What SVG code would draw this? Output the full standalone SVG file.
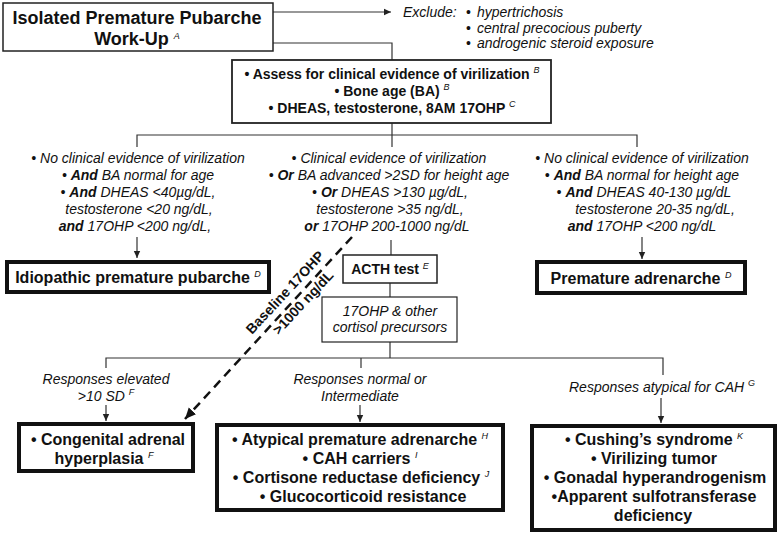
<svg xmlns="http://www.w3.org/2000/svg" width="780" height="535" viewBox="0 0 780 535">
<style>
text{font-family:"Liberation Sans",Arial,Helvetica,sans-serif;fill:#111}
.i{font-style:italic;font-size:14px}
.b{font-weight:bold}
.s14{font-size:14px}
.s16{font-size:16px}
.s18{font-size:18px}
.sup{font-size:9px;font-style:italic;font-weight:normal}
.ln{fill:none;stroke:#333;stroke-width:1.2}
.box{fill:#fff;stroke:#222}
.thick{fill:#fff;stroke:#111;stroke-width:4}
.m{text-anchor:middle}
</style>
<defs>
<marker id="ah" markerUnits="userSpaceOnUse" markerWidth="8" markerHeight="8" refX="7" refY="4" orient="auto">
<path d="M0,0.8 L7,4 L0,7.2 Z" fill="#222"/>
</marker>
<marker id="ahb" markerUnits="userSpaceOnUse" markerWidth="12" markerHeight="12" refX="11" refY="6" orient="auto">
<path d="M0,1 L11,6 L0,11 Z" fill="#111"/>
</marker>
</defs>
<rect width="780" height="535" fill="#fff"/>

<g id="connectors">
<line class="ln" x1="273" y1="12" x2="391" y2="12" marker-end="url(#ah)"/>
<polyline class="ln" points="273,43 392,43 392,60"/>
<line class="ln" x1="392" y1="123" x2="392" y2="147"/>
<polyline class="ln" points="137,147 137,135 637,135 637,147"/>
<line class="ln" x1="137" y1="237" x2="137" y2="258" marker-end="url(#ah)"/>
<line class="ln" x1="642" y1="237" x2="642" y2="259" marker-end="url(#ah)"/>
<line class="ln" x1="391" y1="240" x2="391" y2="255"/>
<line class="ln" x1="390" y1="283" x2="390" y2="297"/>
<line class="ln" x1="390" y1="342" x2="390" y2="358"/>
<polyline class="ln" points="106,368 106,358 663,358 663,375"/>
<line class="ln" x1="361" y1="358" x2="361" y2="368"/>
<line class="ln" x1="106" y1="405" x2="106" y2="421" marker-end="url(#ah)"/>
<line class="ln" x1="360" y1="405" x2="360" y2="422" marker-end="url(#ah)"/>
<line class="ln" x1="661" y1="398" x2="661" y2="423" marker-end="url(#ah)"/>
<line x1="352" y1="237" x2="185" y2="419" stroke="#111" stroke-width="2.5" stroke-dasharray="9 6" marker-end="url(#ahb)"/>
<g transform="translate(295,299) rotate(-47)">
<text class="b m" font-size="14" x="-2" y="-7">Baseline 17OHP</text>
<text class="b m" font-size="14" x="3" y="13">&gt;1000 ng/dL</text>
</g>
</g>

<g id="n-start">
<rect class="box" x="3" y="3" width="270" height="48" stroke-width="1.5"/>
<text class="b s18 m" x="137" y="24">Isolated Premature Pubarche</text>
<text class="b s18 m" x="137" y="45">Work-Up <tspan class="sup" font-size="11" dy="-6">A</tspan></text>
</g>

<g id="n-exclude">
<text class="i" x="403" y="17">Exclude:</text>
<text class="s14" x="466" y="17">•</text>
<text class="i" x="477" y="17">hypertrichosis</text>
<text class="s14" x="466" y="32.5">•</text>
<text class="i" x="477" y="32.5">central precocious puberty</text>
<text class="s14" x="466" y="48">•</text>
<text class="i" x="477" y="48">androgenic steroid exposure</text>
</g>

<g id="n-assess">
<rect class="box" x="232" y="60" width="319" height="63" stroke-width="1.8"/>
<text class="b s14 m" x="392" y="79">• Assess for clinical evidence of virilization <tspan class="sup" dy="-6">B</tspan></text>
<text class="b s14 m" x="392" y="96">• Bone age (BA) <tspan class="sup" dy="-6">B</tspan></text>
<text class="b s14 m" x="392" y="113">• DHEAS, testosterone, 8AM 17OHP <tspan class="sup" dy="-6">C</tspan></text>
</g>

<g id="n-crit-left">
<text class="i m" x="138" y="163">• No clinical evidence of virilization</text>
<text class="i m" x="138" y="180">• <tspan class="b">And</tspan> BA normal for age</text>
<text class="i m" x="138" y="197">• <tspan class="b">And</tspan> DHEAS &lt;40µg/dL,</text>
<text class="i m" x="139" y="214">testosterone &lt;20 ng/dL,</text>
<text class="i m" x="135" y="231"><tspan class="b">and</tspan> 17OHP &lt;200 ng/dL,</text>
</g>

<g id="n-crit-mid">
<text class="i m" x="389" y="163">• Clinical evidence of virilization</text>
<text class="i m" x="389" y="180">• <tspan class="b">Or</tspan> BA advanced &gt;2SD for height age</text>
<text class="i m" x="390" y="197">• <tspan class="b">Or</tspan> DHEAS &gt;130 µg/dL,</text>
<text class="i m" x="390" y="214">testosterone &gt;35 ng/dL,</text>
<text class="i m" x="387" y="231"><tspan class="b">or</tspan> 17OHP 200-1000 ng/dL</text>
</g>

<g id="n-crit-right">
<text class="i m" x="642" y="163">• No clinical evidence of virilization</text>
<text class="i m" x="642" y="180">• <tspan class="b">And</tspan> BA normal for height age</text>
<text class="i m" x="644" y="197">• <tspan class="b">And</tspan> DHEAS 40-130 µg/dL</text>
<text class="i m" x="655" y="214">testosterone 20-35 ng/dL,</text>
<text class="i m" x="642" y="231"><tspan class="b">and</tspan> 17OHP &lt;200 ng/dL</text>
</g>

<g id="n-idiopathic">
<rect class="thick" x="7" y="262" width="262" height="30"/>
<text class="b s16 m" x="138" y="283">Idiopathic premature pubarche <tspan class="sup" dy="-6">D</tspan></text>
</g>

<g id="n-adrenarche">
<rect class="thick" x="537" y="262" width="208" height="31"/>
<text class="b s16 m" x="641" y="284">Premature adrenarche <tspan class="sup" dy="-6">D</tspan></text>
</g>

<g id="n-acth">
<rect class="box" x="343" y="255" width="94" height="28" stroke-width="1.5"/>
<text class="b s14 m" x="390" y="274">ACTH test <tspan class="sup" dy="-5">E</tspan></text>
</g>

<g id="n-precursors">
<rect class="box" x="322" y="297" width="135" height="45" stroke-width="1.2"/>
<text class="i m" x="390" y="316">17OHP &amp; other</text>
<text class="i m" x="390" y="332">cortisol precursors</text>
</g>

<g id="n-resp-labels">
<text class="i m" x="106" y="384">Responses elevated</text>
<text class="i m" x="106" y="401">&gt;10 SD <tspan class="sup" dy="-6">F</tspan></text>
<text class="i m" x="360" y="384">Responses normal or</text>
<text class="i m" x="360" y="401">Intermediate</text>
<text class="i m" x="662" y="392" font-size="14.5">Responses atypical for CAH <tspan class="sup" dy="-6">G</tspan></text>
</g>

<g id="n-cah">
<rect class="thick" x="19" y="424" width="174" height="47"/>
<text class="b s16 m" x="108" y="445">• Congenital adrenal</text>
<text class="b s16 m" x="104" y="464">hyperplasia <tspan class="sup" dy="-6">F</tspan></text>
</g>

<g id="n-normal">
<rect class="thick" x="217" y="425" width="286" height="85"/>
<text class="b s16 m" x="360" y="445">•  Atypical premature adrenarche <tspan class="sup" dy="-6">H</tspan></text>
<text class="b s16 m" x="360" y="464">• CAH carriers <tspan class="sup" dy="-6">I</tspan></text>
<text class="b s16 m" x="361" y="483">• Cortisone reductase deficiency <tspan class="sup" dy="-6">J</tspan></text>
<text class="b s16 m" x="363" y="502">• Glucocorticoid resistance</text>
</g>

<g id="n-atypical">
<rect class="thick" x="532" y="426" width="243" height="104"/>
<text class="b s16 m" x="654" y="445">• Cushing’s syndrome <tspan class="sup" dy="-6">K</tspan></text>
<text class="b s16 m" x="654" y="464">• Virilizing tumor</text>
<text class="b s16 m" x="655" y="483">• Gonadal hyperandrogenism</text>
<text class="b s16 m" x="654" y="502">•Apparent sulfotransferase</text>
<text class="b s16 m" x="653" y="521">deficiency</text>
</g>
</svg>
